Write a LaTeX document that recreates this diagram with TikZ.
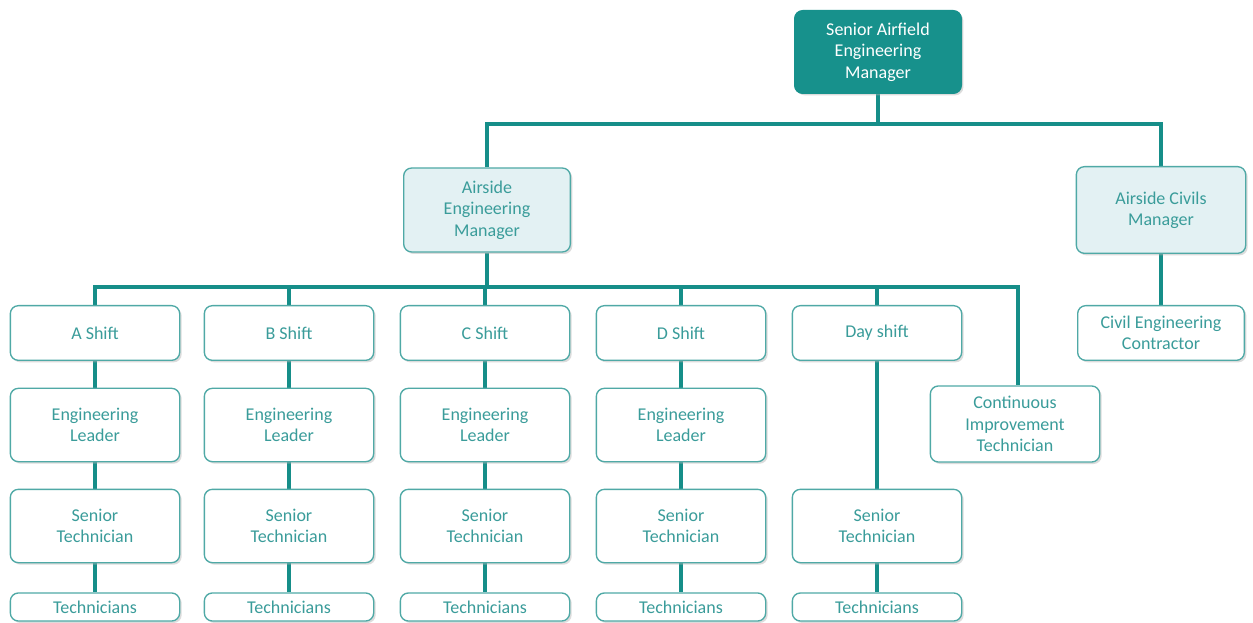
\documentclass[tikz,border=0pt]{standalone}
\usepackage{fontspec}
\setmainfont{Carlito}
\usetikzlibrary{shadows,backgrounds}
\definecolor{tealdark}{HTML}{17918C}
\definecolor{tealline}{HTML}{168E89}
\definecolor{tealedge}{HTML}{4FA9A6}
\definecolor{tealtext}{HTML}{3A9C9A}
\definecolor{palefill}{HTML}{E3F1F3}
\tikzset{
  orgbox/.style={draw=tealedge, line width=1pt, rounded corners=6pt, fill=white,
    align=center, text=tealtext, inner sep=2pt,
    font=\fontsize{13.5}{16}\selectfont,
    drop shadow={shadow xshift=1.5pt, shadow yshift=-1.5pt, fill=black!30, opacity=0.45}},
  headbox/.style={orgbox, fill=tealdark, draw=tealdark, text=white},
  mgrbox/.style={orgbox, fill=palefill},
  conn/.style={draw=tealline, line width=3pt},
}
\begin{document}
\begin{tikzpicture}[x=0.75pt,y=-0.75pt]
\useasboundingbox (0,0) rectangle (1253,623);
% top level
\node[headbox, minimum width=125pt, minimum height=62pt] (sam) at (878,52) {Senior Airfield\\Engineering\\Manager};
% managers
\node[mgrbox, minimum width=125pt, minimum height=63pt] (aem) at (487,210) {Airside\\Engineering\\Manager};
\node[mgrbox, minimum width=127pt, minimum height=65pt] (acm) at (1161,210) {Airside Civils\\Manager};
\node[orgbox, minimum width=125pt, minimum height=41pt] (cec) at (1161,333) {Civil Engineering\\Contractor};
% shift columns
\foreach \id/\xc/\lbl in {A/95/A Shift, B/289/B Shift, C/485/C Shift, D/681/D Shift, E/877/Day shift}{
  \node[orgbox, minimum width=127pt, minimum height=41pt] (s\id) at (\xc,333) {\lbl};
  \node[orgbox, minimum width=127pt, minimum height=55pt] (st\id) at (\xc,526) {Senior\\Technician};
  \node[orgbox, minimum width=127pt, minimum height=21pt, inner sep=1pt] (t\id) at (\xc,607) {Technicians};
}
\foreach \id/\xc in {A/95, B/289, C/485, D/681}{
  \node[orgbox, minimum width=127pt, minimum height=55pt] (el\id) at (\xc,425) {Engineering\\Leader};
}
\node[orgbox, minimum width=127pt, minimum height=57pt] (cit) at (1015,424) {Continuous\\Improvement\\Technician};
\coordinate (bus1) at (878,124);
\coordinate (bus2) at (487,287);
\coordinate (citin) at (1018,287);
\begin{scope}[on background layer]
  \fill[white] (0,0) rectangle (1253,623);
  \draw[conn] (sam.south) -- (bus1);
  \draw[conn] (aem.north) |- (acm.north |- bus1) -- (acm.north);
  \draw[conn] (acm.south) -- (cec.north);
  \draw[conn] (aem.south) -- (bus2);
  \draw[conn] (sA.north) |- (citin) -- (citin |- cit.north);
  \foreach \id in {B,C,D,E}{
    \draw[conn] (s\id.north) -- (s\id.north |- bus2);
  }
  \foreach \id in {A,B,C,D}{
    \draw[conn] (s\id.south) -- (el\id.north);
    \draw[conn] (el\id.south) -- (st\id.north);
  }
  \draw[conn] (sE.south) -- (stE.north);
  \foreach \id in {A,B,C,D,E}{
    \draw[conn] (st\id.south) -- (t\id.north);
  }
\end{scope}
\end{tikzpicture}
\end{document}
